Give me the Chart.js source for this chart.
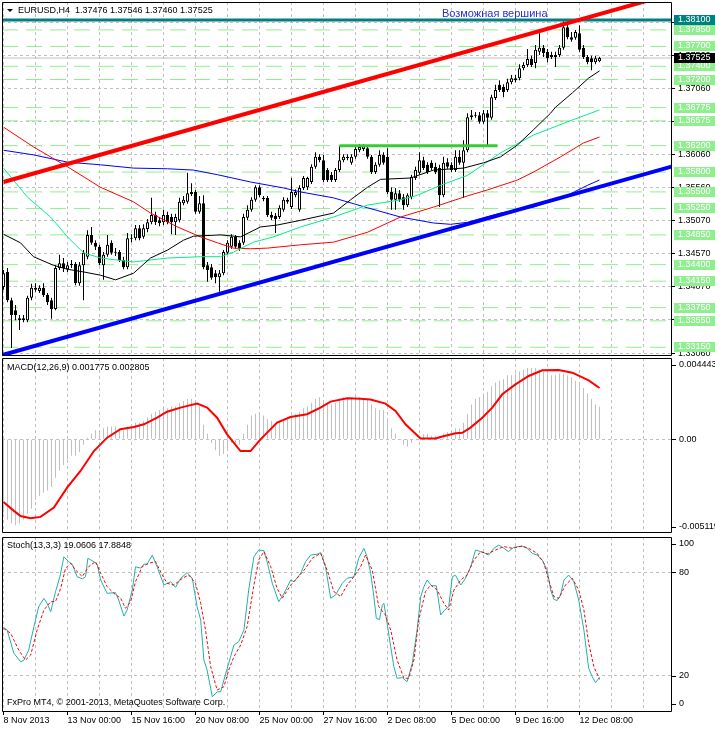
<!DOCTYPE html>
<html><head><meta charset="utf-8">
<script src="https://cdn.jsdelivr.net/npm/chart.js@4.4.1/dist/chart.umd.min.js"></script>
<style>
html,body{margin:0;padding:0;background:#fff;}
body{width:715px;height:729px;position:relative;overflow:hidden;}
canvas{position:absolute;left:0;}
</style></head><body>
<canvas id="cMain" style="top:0px" width="715" height="358"></canvas>
<canvas id="cMacd" style="top:358px" width="715" height="177"></canvas>
<canvas id="cStoch" style="top:535px" width="715" height="194"></canvas>
<script>
// ---------------- DATA ----------------
const symbolTitle = 'EURUSD,H4  1.37476 1.37546 1.37460 1.37525';
const macdTitle = 'MACD(12,26,9) 0.001775 0.002805';
const stochTitle = 'Stoch(13,3,3) 19.0606 17.8848';
const footerText = 'FxPro MT4, \u00A9 2001-2013, MetaQuotes Software Corp.';
const noteText = 'Возможная вершина';
const noteAnchor = [109.6, 1.3819];

const barOpen = [
1.3406,1.3429,1.3386,1.3371,1.3359,1.3356,1.3356,1.3390,1.3405,1.3400,
1.3405,1.3394,1.3386,1.3373,1.3435,1.3442,1.3433,1.3439,1.3441,1.3412,
1.3439,1.3452,1.3485,1.3473,1.3467,1.3439,1.3455,1.3473,1.3459,1.3459,
1.3447,1.3436,1.3480,1.3480,1.3495,1.3482,1.3494,1.3504,1.3515,1.3507,
1.3504,1.3515,1.3512,1.3504,1.3507,1.3533,1.3535,1.3547,1.3550,1.3520,
1.3533,1.3439,1.3436,1.3427,1.3421,1.3427,1.3458,1.3467,1.3482,1.3473,
1.3473,1.3511,1.3523,1.3538,1.3557,1.3541,1.3541,1.3515,1.3514,1.3512,
1.3523,1.3538,1.3527,1.3545,1.3523,1.3556,1.3557,1.3565,1.3588,1.3603,
1.3598,1.3583,1.3576,1.3568,1.3583,1.3598,1.3601,1.3594,1.3603,1.3613,
1.3615,1.3616,1.3603,1.3580,1.3591,1.3606,1.3603,1.3550,1.3538,1.3548,
1.3542,1.3530,1.3542,1.3571,1.3579,1.3598,1.3591,1.3594,1.3588,1.3586,
1.3545,1.3595,1.3591,1.3583,1.3603,1.3594,1.3613,1.3663,1.3665,1.3666,
1.3656,1.3669,1.3662,1.3692,1.3712,1.3709,1.3704,1.3716,1.3719,1.3722,
1.3737,1.3742,1.3751,1.3745,1.3762,1.3768,1.3762,1.3757,1.3757,1.3757,
1.3768,1.3799,1.3784,1.3783,1.3790,1.3768,1.3754,1.3752,1.3746,1.37476];
const barHigh = [
1.3432,1.3435,1.3390,1.3379,1.3364,1.3364,1.3393,1.3411,1.3412,1.3409,
1.3412,1.3397,1.3390,1.3439,1.3455,1.3450,1.3444,1.3447,1.3444,1.3444,
1.3462,1.3492,1.3497,1.3477,1.3470,1.3459,1.3485,1.3477,1.3465,1.3462,
1.3452,1.3488,1.3486,1.3500,1.3500,1.3501,1.3509,1.3541,1.3520,1.3512,
1.3523,1.3520,1.3517,1.3517,1.3541,1.3544,1.3579,1.3563,1.3553,1.3544,
1.3545,1.3444,1.3441,1.3432,1.3432,1.3462,1.3477,1.3486,1.3485,1.3477,
1.3517,1.3530,1.3542,1.3560,1.3560,1.3544,1.3544,1.3520,1.3518,1.3530,
1.3542,1.3541,1.3571,1.3554,1.3560,1.3574,1.3573,1.3592,1.3610,1.3607,
1.3606,1.3586,1.3580,1.3586,1.3619,1.3607,1.3607,1.3607,1.3619,1.3622,
1.3622,1.3621,1.3606,1.3595,1.3613,1.3610,1.3616,1.3557,1.3556,1.3553,
1.3547,1.3548,1.3576,1.3588,1.3610,1.3603,1.3595,1.3598,1.3594,1.3591,
1.3603,1.3601,1.3595,1.3613,1.3613,1.3628,1.3669,1.3674,1.3671,1.3671,
1.3674,1.3674,1.3697,1.3712,1.3719,1.3713,1.3721,1.3727,1.3727,1.3743,
1.3746,1.3766,1.3756,1.3772,1.3790,1.3772,1.3766,1.3762,1.3762,1.3772,
1.3808,1.3804,1.3792,1.3795,1.3802,1.3772,1.3757,1.3756,1.3756,1.37546];
const barLow = [
1.3402,1.3383,1.3314,1.3356,1.3341,1.3353,1.3353,1.3386,1.3399,1.3397,
1.3391,1.3379,1.3358,1.3371,1.3432,1.3429,1.3429,1.3435,1.3409,1.3408,
1.3386,1.3448,1.3470,1.3462,1.3439,1.3417,1.3452,1.3455,1.3453,1.3444,
1.3433,1.3433,1.3474,1.3477,1.3477,1.3479,1.3489,1.3501,1.3500,1.3498,
1.3500,1.3501,1.3486,1.3485,1.3504,1.3530,1.3532,1.3544,1.3517,1.3517,
1.3433,1.3414,1.3417,1.3412,1.3399,1.3424,1.3455,1.3464,1.3464,1.3461,
1.3470,1.3507,1.3520,1.3535,1.3542,1.3536,1.3512,1.3507,1.3488,1.3509,
1.3520,1.3532,1.3524,1.3542,1.3520,1.3553,1.3553,1.3562,1.3585,1.3595,
1.3565,1.3565,1.3565,1.3565,1.3580,1.3595,1.3598,1.3591,1.3600,1.3610,
1.3612,1.3600,1.3577,1.3577,1.3588,1.3591,1.3547,1.3523,1.3523,1.3535,
1.3523,1.3527,1.3539,1.3568,1.3576,1.3583,1.3577,1.3583,1.3577,1.3527,
1.3542,1.3585,1.3580,1.3580,1.3591,1.3541,1.3610,1.3659,1.3662,1.3653,
1.3653,1.3618,1.3659,1.3689,1.3701,1.3693,1.3701,1.3713,1.3716,1.3719,
1.3734,1.3739,1.3739,1.3737,1.3757,1.3754,1.3746,1.3751,1.3739,1.3754,
1.3765,1.3781,1.3777,1.3780,1.3762,1.3751,1.3743,1.3734,1.3743,1.37460];
const barClose = [
1.3427,1.3386,1.3364,1.3364,1.3356,1.3359,1.3390,1.3405,1.3402,1.3405,
1.3394,1.3383,1.3373,1.3435,1.3442,1.3435,1.3439,1.3441,1.3412,1.3439,
1.3458,1.3485,1.3473,1.3467,1.3442,1.3455,1.3470,1.3458,1.3458,1.3447,
1.3436,1.3480,1.3479,1.3495,1.3480,1.3495,1.3504,1.3515,1.3504,1.3503,
1.3515,1.3504,1.3504,1.3512,1.3535,1.3538,1.3548,1.3550,1.3520,1.3533,
1.3436,1.3432,1.3420,1.3421,1.3427,1.3459,1.3473,1.3482,1.3467,1.3465,
1.3512,1.3523,1.3538,1.3557,1.3545,1.3539,1.3515,1.3511,1.3509,1.3526,
1.3538,1.3535,1.3550,1.3550,1.3556,1.3571,1.3571,1.3588,1.3603,1.3598,
1.3568,1.3568,1.3568,1.3583,1.3598,1.3603,1.3603,1.3603,1.3615,1.3618,
1.3619,1.3603,1.3580,1.3591,1.3606,1.3594,1.3550,1.3538,1.3548,1.3538,
1.3530,1.3545,1.3573,1.3583,1.3598,1.3586,1.3580,1.3586,1.3580,1.3545,
1.3594,1.3588,1.3583,1.3603,1.3594,1.3613,1.3663,1.3666,1.3666,1.3656,
1.3669,1.3662,1.3693,1.3704,1.3704,1.3701,1.3716,1.3722,1.3722,1.3737,
1.3742,1.3751,1.3742,1.3765,1.3768,1.3760,1.3752,1.3754,1.3754,1.3768,
1.3799,1.3784,1.3780,1.3792,1.3765,1.3754,1.3746,1.3746,1.3752,1.37525];

// moving averages: [bar, price]
const maBlack = [[0,1.3486],[4.25,1.3473],[7.5,1.3452],[12.5,1.3439],[16,1.3433],[20,1.3429],[24.25,1.3424],[28,1.3417],[32.5,1.3427],[36.75,1.3450],[41,1.3462],[45,1.3477],[47.5,1.3483],[54.25,1.3485],[59.25,1.3482],[64.25,1.3497],[68.5,1.3500],[74.25,1.3507],[82.5,1.3518],[86.75,1.3538],[91,1.3557],[94.25,1.3569],[101.75,1.3571],[107.5,1.3583],[115,1.3586],[120,1.3594],[124.25,1.3603],[128.5,1.3621],[132.5,1.3644],[136.75,1.3669],[138,1.3678],[142.25,1.3700],[146.25,1.3722],[149,1.3733]];
const maGreen = [[0,1.3586],[6,1.3542],[11.75,1.3512],[16,1.3482],[20,1.3458],[24.25,1.3450],[32.5,1.3444],[41,1.3450],[49.25,1.3452],[54.25,1.3452],[57.5,1.3459],[62.5,1.3474],[67.5,1.3482],[74.25,1.3497],[82.5,1.3512],[91,1.3530],[99.25,1.3538],[103.5,1.3545],[109.25,1.3560],[116,1.3575],[124.25,1.3609],[132.5,1.3636],[141,1.3656],[149,1.3674]];
const maRed = [[0,1.3648],[7.5,1.3618],[16,1.3588],[24.25,1.3557],[32.5,1.3535],[36.75,1.3518],[43.5,1.3497],[49.25,1.3482],[53.5,1.3473],[57.5,1.3465],[61.75,1.3464],[66,1.3465],[74.25,1.3470],[82.5,1.3474],[91,1.3489],[99.25,1.3512],[107.5,1.3527],[116,1.3544],[121,1.3553],[128.5,1.3568],[132.5,1.3580],[139.25,1.3603],[145,1.3624],[149,1.3633]];
const maBlue = [[0,1.3613],[7.5,1.3606],[16,1.3595],[24.25,1.3591],[32.5,1.3586],[41,1.3585],[47.5,1.3583],[53.5,1.3576],[61.75,1.3565],[70,1.3556],[74.25,1.3550],[82.5,1.3541],[91,1.3526],[99.25,1.3512],[107.5,1.3503],[111.75,1.3501],[116,1.3504],[120,1.3511],[124.25,1.3518],[132.5,1.3527],[141,1.3545],[146,1.3560],[149,1.3568]];

// drawn objects
const trendRed = [[0,1.3565],[162,1.3841]];
const trendBlue = [[-1,1.3302],[168,1.3590]];
const greenSegment = [[84,1.3620],[123.5,1.3620]];
const resistancePrice = 1.3810;
const bidPrice = 1.37525;
const levelPrices = [1.3795,1.3770,1.3740,1.3720,1.36775,1.36575,1.3620,1.3580,1.3550,1.3525,1.3485,1.3440,1.3415,1.3375,1.3355,1.3315];
const priceGrid = [1.3806,1.3756,1.3706,1.3656,1.3606,1.3556,1.3507,1.3457,1.3407,1.3357,1.3306];

// axes
const xGridBars = [0,8,16,24,32,40,48,56,64,72,80,88,96,104,112,120,128,136,144,152,160];
const xTickBars = [0,16,32,48,64,80,96,112,128,144];
const xTickLabels = ['8 Nov 2013','13 Nov 00:00','15 Nov 16:00','20 Nov 08:00','25 Nov 00:00','27 Nov 16:00','2 Dec 08:00','5 Dec 00:00','9 Dec 16:00','12 Dec 08:00'];

// MACD
const macdHist = [
-0.0040,-0.0044,-0.0046,-0.0047,-0.0046,-0.0044,-0.0041,-0.0038,-0.0033,-0.0031,
-0.0029,-0.0028,-0.0026,-0.0021,-0.0017,-0.0014,-0.0011,-0.0009,-0.0009,-0.0007,
-0.0003,0.0001,0.0003,0.0005,0.0005,0.0006,0.0007,0.0007,0.0007,0.0006,
0.0005,0.0007,0.0008,0.0009,0.0009,0.0010,0.0012,0.0014,0.0015,0.0016,
0.0017,0.0017,0.0018,0.0018,0.0020,0.0021,0.0022,0.0022,0.0020,0.0018,
0.0008,0.0003,-0.0002,-0.0006,-0.0009,-0.0008,-0.0005,-0.0002,-0.0002,-0.0003,
0.0003,0.0008,0.0013,0.0014,0.0014,0.0013,0.0011,0.0010,0.0009,0.0010,
0.0011,0.0011,0.0013,0.0014,0.0015,0.0017,0.0018,0.0020,0.0022,0.0023,
0.0021,0.0020,0.0019,0.0020,0.0022,0.0023,0.0023,0.0023,0.0023,0.0023,
0.0022,0.0022,0.0019,0.0017,0.0016,0.0016,0.0011,0.0006,0.0003,0.0000,
-0.0003,-0.0004,-0.0002,0.0000,0.0002,0.0003,0.0003,0.0002,0.0002,0.0001,
0.0003,0.0004,0.0005,0.0006,0.0006,0.0009,0.0014,0.0019,0.0022,0.0023,
0.0025,0.0026,0.0029,0.0031,0.0032,0.0033,0.0035,0.0035,0.0036,0.0037,
0.0038,0.0039,0.0039,0.0039,0.0038,0.0037,0.0036,0.0035,0.0035,0.0036,
0.0036,0.0035,0.0034,0.0032,0.0030,0.0028,0.0025,0.0022,0.0019,0.001775];
const macdSignal = [[0,-0.00342],[2.6,-0.00391],[4.25,-0.00419],[6.75,-0.00431],[9.25,-0.00424],[12.6,-0.00373],[15.9,-0.00264],[19.25,-0.00173],[22.6,-0.00064],[25.9,0.00009],[29.25,0.00055],[32.6,0.00067],[35.1,0.00082],[38.4,0.00118],[40.9,0.00151],[44.25,0.00173],[48.4,0.00195],[50.9,0.00173],[53.4,0.00118],[55.9,0.00027],[59.25,-0.00064],[61.75,-0.00064],[64.25,0],[68.4,0.00091],[71.75,0.00122],[75.9,0.00137],[79.25,0.00173],[81.75,0.00206],[85.9,0.00224],[89.25,0.00222],[91.75,0.00218],[95.5,0.00195],[98,0.00155],[100.5,0.00082],[104.25,0.00004],[108,0.00004],[109.7,0.00015],[113,0.00033],[114.7,0.00036],[116.75,0.00064],[119.7,0.00118],[122.2,0.00173],[124.7,0.00246],[128,0.00300],[131.3,0.00346],[134.7,0.00377],[138.8,0.00379],[142.2,0.00364],[146.3,0.00322],[149,0.002805]];
const macdMax = 0.004443, macdMin = -0.005119;

// Stochastic
const stochK = [[0,48.1],[0.9,46.5],[2.6,33],[4.3,28.1],[5.1,29],[6.3,34.9],[7.6,48.4],[8.8,60],[10.1,64.9],[10.9,62],[11.8,57.1],[13,68.7],[14.1,77.4],[15.1,89],[16.3,86.1],[17.2,84.7],[18.4,77.4],[19.7,76.2],[20.5,77.4],[21.1,88.1],[22.6,86.1],[23.4,84.7],[24.3,75.5],[25.9,67.8],[28,68.2],[28.8,63.9],[30.1,54.6],[30.9,58.1],[32.2,69.7],[33,83.2],[34.3,82.4],[35.1,84.7],[35.9,84.7],[37.2,90],[38.4,83.2],[40.1,72.6],[41.8,74.5],[43,71.3],[44.3,76.5],[45.9,79.8],[47.2,76.5],[48.4,60],[49.3,52.3],[50.1,29.1],[50.9,23.3],[52.2,7.8],[53.4,10.6],[54.3,10.7],[55.1,17.5],[56.3,27.2],[57.6,37.8],[58.8,39.7],[60.1,46.5],[61.3,69.7],[62.6,89],[63.8,92.9],[65.1,92.5],[65.9,86.1],[67.2,73.6],[68.8,62.9],[70.1,67.6],[71.8,75.5],[72.6,74.5],[74.3,79.4],[75.5,86.1],[76.8,90],[78.4,90.5],[79.3,91.4],[80.5,83.2],[81.8,64.9],[83,66.8],[84.7,73.6],[85.9,76.5],[87.6,77.4],[88.8,88.1],[90.1,93.9],[90.9,89],[91.8,79.4],[92.6,65.8],[93.2,53.3],[94,52.6],[94.7,61],[95.1,62],[95.9,50.4],[96.8,36.8],[97.6,25.2],[98.4,18.5],[99.7,18.9],[100.9,16.5],[102.2,27.2],[103.4,46.5],[104.3,65.8],[105.1,71.6],[105.9,75.5],[107,72.2],[108.2,72.2],[109.3,55.2],[110.3,58.1],[111.3,60],[112.2,77.4],[113,78.3],[114.3,72.6],[115.5,76.5],[116.8,83.2],[118,92.9],[119.3,92],[120.1,91.4],[121.3,90],[122.6,93.9],[123.8,95.8],[125.1,93.9],[126.2,92],[127.6,94.5],[129.7,95.2],[130.9,93.9],[132.2,91],[133.4,90],[134.7,87.1],[135.9,81.3],[136.8,69.7],[137.6,64.3],[138.4,63.6],[139.3,66.8],[140.1,75.5],[141.3,78.4],[142.6,74.5],[143.8,63.9],[145.1,46.5],[146.3,24.3],[147.2,19.4],[148,16],[149,19.06]];
const stochD = [[0,47.5],[1.8,44.6],[3.8,34.9],[5.5,29.1],[6.8,32],[8.4,46.5],[10.1,58.1],[11.8,63],[13,63],[14.3,70.7],[15.5,82.3],[16.8,85.2],[18,81.3],[19.7,77.5],[21.3,83.3],[23,86.2],[24.3,79.4],[25.9,71.7],[27.6,67.8],[29.3,64.9],[30.5,59.1],[31.8,63],[33,74.6],[34.7,83.3],[36.3,85.2],[38,86.2],[39.7,78.4],[40.9,73.6],[42.6,72.6],[44.7,76.5],[46.3,78.4],[48,73.6],[49.3,62],[50.5,46.5],[51.8,25.2],[53.4,11.7],[55.1,13.6],[56.3,23.3],[57.6,31],[59.3,37.8],[60.9,48.5],[62.6,72.6],[63.8,87.1],[65.1,92],[66.8,83.3],[68.4,70.7],[69.7,64.9],[71.8,72.6],[73.4,76.5],[75.5,82.3],[77.2,88.1],[79.3,91],[80.9,81.3],[82.6,68.8],[84.3,65.9],[85.9,72.6],[87.6,77.5],[89.3,83.3],[90.5,90],[92.2,81.3],[93.8,60.1],[95.5,55.2],[96.8,46.5],[98.4,29.1],[100.1,18.5],[101.3,18.5],[102.6,29.1],[103.8,52.3],[105.5,68.8],[106.8,72.6],[108.4,69.7],[110.1,62],[111.3,58.1],[112.6,69.7],[114.3,75.5],[115.9,78.4],[117.6,87.1],[119.3,92],[120.9,90.6],[123,92.9],[125.1,94.9],[127.2,93.9],[129.7,95.2],[131.3,93.9],[133.4,91],[135.1,85.2],[136.3,75.5],[137.6,65.9],[138.8,64.9],[140.5,72.6],[142.2,76.5],[143.8,69.7],[145.1,58.1],[146.3,38.8],[147.6,25.2],[149,17.88]];
const stochLevels = [80, 20];
const stochAxisLabels = ['100','80','20','0'];

// ---------------- LAYOUT / STYLE ----------------
const FONT = '"Liberation Sans", Arial, sans-serif';
const GRID = '#C0C0C0';
const X_MIN = -0.375, X_MAX = 166.875;
const MAIN_MIN = 1.330183, MAIN_MAX = 1.383722;
const STOCH_MIN = -1.04, STOCH_MAX = 100.46;

Chart.defaults.font.family = FONT;
Chart.defaults.font.size = 9;
Chart.defaults.color = '#000';
Chart.defaults.animation = false;
Chart.defaults.events = [];
Chart.defaults.plugins.legend.display = false;
Chart.defaults.plugins.tooltip.enabled = false;
Chart.defaults.elements.point.radius = 0;
Chart.defaults.elements.point.hitRadius = 0;
Chart.defaults.elements.line.borderWidth = 1;
Chart.defaults.elements.line.tension = 0;

const pts = arr => arr.map(p => ({x: p[0], y: p[1]}));
const hLine = v => [{x: X_MIN, y: v}, {x: X_MAX, y: v}];
const barIdx = barOpen.map((_, i) => i);

function makeX(withLabels) {
  return {
    type: 'linear', min: X_MIN, max: X_MAX, offset: false,
    grid: { offset: false, color: GRID, lineWidth: 1, drawTicks: withLabels, tickLength: 3,
      tickColor: c => (c.tick && xTickBars.includes(c.tick.value)) ? '#000' : 'rgba(0,0,0,0)' },
    border: { display: false, dash: [3, 3] },
    ticks: { display: withLabels, autoSkip: false, maxRotation: 0, minRotation: 0, align: 'start', padding: 0,
      color: '#000', font: { size: 9 },
      callback: v => { const k = xTickBars.indexOf(v); return k >= 0 ? xTickLabels[k] : ''; } },
    afterBuildTicks: s => { s.ticks = xGridBars.map(v => ({ value: v })); },
    afterFit: s => { s.height = withLabels ? 17 : 0; s.paddingLeft = 0; s.paddingRight = 0; }
  };
}
function makeYSub(min, max, gridVals) {
  return {
    type: 'linear', position: 'right', min, max,
    grid: { color: GRID, lineWidth: 1, drawTicks: false },
    border: { display: false, dash: [3, 3] },
    ticks: { display: false },
    afterBuildTicks: s => { s.ticks = gridVals.map(v => ({ value: v })); },
    afterFit: s => { s.width = 44; s.paddingTop = 0; s.paddingBottom = 0; }
  };
}
function drawFrame(chart) {
  const { ctx, chartArea: a } = chart;
  ctx.save();
  ctx.strokeStyle = '#000'; ctx.lineWidth = 1;
  ctx.beginPath();
  ctx.moveTo(a.left + 0.5, a.top + 0.5); ctx.lineTo(a.right + 0.5, a.top + 0.5);
  ctx.lineTo(a.right + 0.5, a.bottom - 0.5); ctx.lineTo(a.left + 0.5, a.bottom - 0.5); ctx.closePath();
  ctx.stroke();
  ctx.restore();
}
function sideLabel(ctx, text, y, x0) {
  ctx.fillStyle = '#000';
  ctx.fillRect(x0, Math.round(y), 4, 1);
  ctx.fillText(text, x0 + 7, y);
}

// ---------------- MAIN PANE ----------------
const mainOverlay = {
  id: 'mainOverlay',
  afterDraw(chart) {
    const { ctx, chartArea: a, scales: { x, y } } = chart;
    drawFrame(chart);
    ctx.save();
    ctx.font = '9px ' + FONT; ctx.textBaseline = 'middle'; ctx.textAlign = 'left';
    const box = (p, bg, fg) => {
      const py = Math.round(y.getPixelForValue(p));
      ctx.fillStyle = bg; ctx.fillRect(a.right + 3, py - 5, 715 - a.right - 3, 10);
      ctx.fillStyle = fg; ctx.fillText(p.toFixed(5), a.right + 7, py);
    };
    levelPrices.forEach(p => box(p, '#90EE90', '#FFFFFF'));
    box(resistancePrice, '#008080', '#FFFFFF');
    box(bidPrice, '#000000', '#FFFFFF');
    // title
    ctx.fillStyle = '#000';
    ctx.beginPath(); ctx.moveTo(7, 9); ctx.lineTo(13, 9); ctx.lineTo(10, 12); ctx.closePath(); ctx.fill();
    ctx.fillText(symbolTitle, 18, 11);
    // note
    ctx.font = '11px ' + FONT; ctx.fillStyle = '#2B2BD6';
    ctx.fillText(noteText, x.getPixelForValue(noteAnchor[0]), y.getPixelForValue(noteAnchor[1]));
    ctx.restore();
  }
};

const candleBodies = barIdx.map(i => ({ x: i, y: [barOpen[i], barClose[i]] }));
const candleWicks = barIdx.map(i => ({ x: i, y: [barLow[i], barHigh[i]] }));
const bodyColors = barIdx.map(i => barClose[i] >= barOpen[i] ? '#FFFFFF' : '#000000');

const mainDatasets = [
  { type: 'line', label: 'Trend red', data: pts(trendRed), borderColor: '#FF0000', borderWidth: 4, order: 0, clip: 0 },
  { type: 'line', label: 'Trend blue', data: pts(trendBlue), borderColor: '#0000FF', borderWidth: 4, order: 0, clip: 0 },
  { type: 'line', label: 'Resistance', data: pts(greenSegment), borderColor: '#33CC33', borderWidth: 3, order: 0, clip: 0 },
  { type: 'line', label: '1.38100', data: hLine(resistancePrice), borderColor: '#008080', borderWidth: 3, order: 1, clip: 0 },
  { type: 'line', label: 'MA black', data: pts(maBlack), borderColor: '#000000', order: 2, clip: 0 },
  { type: 'line', label: 'MA green', data: pts(maGreen), borderColor: '#00EE88', order: 2, clip: 0 },
  { type: 'line', label: 'MA red', data: pts(maRed), borderColor: '#FF0000', order: 2, clip: 0 },
  { type: 'line', label: 'MA blue', data: pts(maBlue), borderColor: '#0000FF', order: 2, clip: 0 },
  { type: 'bar', label: 'Bodies', data: candleBodies, backgroundColor: bodyColors, borderColor: '#000', borderWidth: 1,
    borderSkipped: false, barThickness: 3, grouped: false, inflateAmount: 0, minBarLength: 1, order: 3 },
  { type: 'bar', label: 'Wicks', data: candleWicks, backgroundColor: '#000', borderWidth: 0,
    barThickness: 1, grouped: false, inflateAmount: 0, order: 4 },
  { type: 'line', label: 'Bid', data: hLine(bidPrice), borderColor: '#C0C0C0', order: 5, clip: 0 }
].concat(levelPrices.map(p => ({ type: 'line', label: 'Level ' + p, data: hLine(p), borderColor: '#90EE90',
  borderDash: [16, 8], order: 6, clip: 0 })));

new Chart(document.getElementById('cMain'), {
  type: 'line',
  data: { datasets: mainDatasets },
  options: {
    responsive: false, maintainAspectRatio: false,
    layout: { padding: { left: 2, right: 0, top: 2, bottom: 2 } },
    scales: {
      x: makeX(false),
      y: { type: 'linear', position: 'right', min: MAIN_MIN, max: MAIN_MAX,
        grid: { color: GRID, lineWidth: 1, drawTicks: true, tickLength: 4, tickColor: '#000' },
        border: { display: false, dash: [3, 3] },
        ticks: { autoSkip: false, padding: 3, color: '#000', font: { size: 9 }, callback: v => v.toFixed(5) },
        afterBuildTicks: s => { s.ticks = priceGrid.map(v => ({ value: v })); },
        afterFit: s => { s.width = 44; s.paddingTop = 0; s.paddingBottom = 0; } }
    }
  },
  plugins: [mainOverlay]
});

// ---------------- MACD PANE ----------------
const macdOverlay = {
  id: 'macdOverlay',
  afterDraw(chart) {
    const { ctx, chartArea: a, scales: { y } } = chart;
    drawFrame(chart);
    ctx.save();
    ctx.font = '9px ' + FONT; ctx.textBaseline = 'middle'; ctx.textAlign = 'left';
    ctx.fillStyle = '#000';
    ctx.fillText(macdTitle, 7, a.top + 10);
    sideLabel(ctx, macdMax.toFixed(6), a.top + 7, a.right + 1);
    sideLabel(ctx, '0.00', y.getPixelForValue(0), a.right + 1);
    sideLabel(ctx, macdMin.toFixed(6), a.bottom - 6, a.right + 1);
    ctx.restore();
  }
};
new Chart(document.getElementById('cMacd'), {
  type: 'line',
  data: { datasets: [
    { type: 'line', label: 'Signal', data: pts(macdSignal), borderColor: '#FF0000', borderWidth: 2, order: 0, clip: 0 },
    { type: 'bar', label: 'MACD', data: macdHist.map((v, i) => ({ x: i, y: v })), backgroundColor: '#C0C0C0',
      borderWidth: 0, barThickness: 1, grouped: false, inflateAmount: 0, order: 1 }
  ] },
  options: {
    responsive: false, maintainAspectRatio: false,
    layout: { padding: { left: 2, right: 0, top: 0, bottom: 2 } },
    scales: { x: makeX(false), y: makeYSub(macdMin, macdMax, [0]) }
  },
  plugins: [macdOverlay]
});

// ---------------- STOCH PANE ----------------
const stochOverlay = {
  id: 'stochOverlay',
  afterDraw(chart) {
    const { ctx, chartArea: a, scales: { y } } = chart;
    drawFrame(chart);
    ctx.save();
    ctx.font = '9px ' + FONT; ctx.textBaseline = 'middle'; ctx.textAlign = 'left';
    ctx.fillStyle = '#000';
    ctx.fillText(stochTitle, 7, a.top + 9);
    ctx.fillText(footerText, 7, a.bottom - 9);
    sideLabel(ctx, stochAxisLabels[0], a.top + 7, a.right + 1);
    sideLabel(ctx, stochAxisLabels[1], y.getPixelForValue(stochLevels[0]), a.right + 1);
    sideLabel(ctx, stochAxisLabels[2], y.getPixelForValue(stochLevels[1]), a.right + 1);
    sideLabel(ctx, stochAxisLabels[3], a.bottom - 8, a.right + 1);
    ctx.restore();
  }
};
new Chart(document.getElementById('cStoch'), {
  type: 'line',
  data: { datasets: [
    { label: '%K', data: pts(stochK), borderColor: '#20B2AA', order: 1, clip: 0 },
    { label: '%D', data: pts(stochD), borderColor: '#FF0000', borderDash: [3, 2], order: 0, clip: 0 }
  ] },
  options: {
    responsive: false, maintainAspectRatio: false,
    layout: { padding: { left: 2, right: 0, top: 2, bottom: 0 } },
    scales: { x: makeX(true), y: makeYSub(STOCH_MIN, STOCH_MAX, stochLevels) }
  },
  plugins: [stochOverlay]
});
</script>
</body></html>
